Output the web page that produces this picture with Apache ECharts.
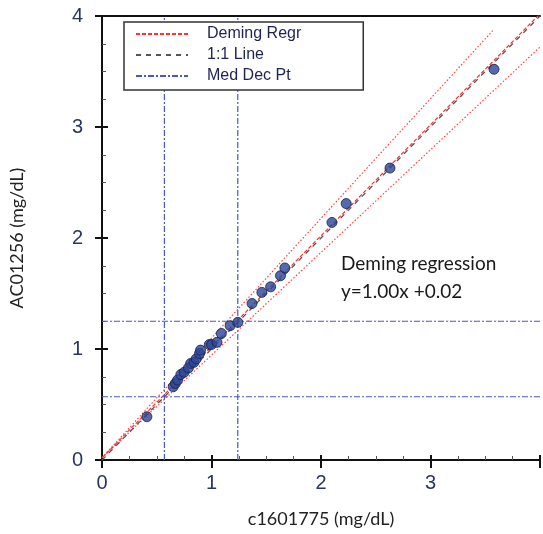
<!DOCTYPE html>
<html>
<head>
<meta charset="utf-8">
<script src="https://cdn.jsdelivr.net/npm/echarts@6/dist/echarts.min.js"></script>
<style>html,body{margin:0;padding:0;background:#fff;}#c{width:543px;height:534px;}</style>
</head>
<body>
<div id="c"></div>
<script>
// Data
var xTicks = [0, 1, 2, 3];
var yTicks = [0, 1, 2, 3, 4];
var points = [
  [0.41, 0.39], [0.65, 0.66], [0.67, 0.69], [0.69, 0.72], [0.72, 0.77], [0.75, 0.79],
  [0.79, 0.83], [0.81, 0.87], [0.84, 0.88], [0.86, 0.91], [0.89, 0.96], [0.90, 0.99],
  [0.98, 1.04], [1.00, 1.04], [1.05, 1.06], [1.09, 1.14], [1.17, 1.21], [1.24, 1.24],
  [1.37, 1.41], [1.46, 1.51], [1.54, 1.56], [1.63, 1.66], [1.67, 1.73],
  [2.10, 2.14], [2.23, 2.31], [2.63, 2.63], [3.58, 3.52]
];
var demingLine = [[0, 0.02], [4, 4.02]];
var identityLine = [[0, 0], [4, 4]];
var upperBand = [[0, 0.02], [3.57, 3.87]];
var lowerBand = [[0, 0.02], [4, 3.72]];
var medDecX = [0.57, 1.24];
var medDecY = [0.57, 1.25];
var axisRange = [0, 4];

var medColor = '#4a58c4';
var medDash = [6, 2, 2, 2];
var series = [];
medDecX.forEach(function (v) {
  series.push({ name: 'Med Dec Pt', type: 'line', symbol: 'none', silent: true, z: 1,
    itemStyle: { color: medColor },
    lineStyle: { color: medColor, width: 1.2, type: medDash },
    data: [[v, axisRange[0]], [v, axisRange[1]]] });
});
medDecY.forEach(function (v) {
  series.push({ name: 'Med Dec Pt', type: 'line', symbol: 'none', silent: true, z: 1,
    itemStyle: { color: medColor },
    lineStyle: { color: medColor, width: 1.2, type: medDash },
    data: [[axisRange[0], v], [axisRange[1], v]] });
});
series.push({ name: 'UpperCI', type: 'line', symbol: 'none', z: 2,
  lineStyle: { color: '#ff4040', width: 1.2, type: [1.5, 2] }, data: upperBand });
series.push({ name: 'LowerCI', type: 'line', symbol: 'none', z: 2,
  lineStyle: { color: '#ff4040', width: 1.2, type: [1.5, 2] }, data: lowerBand });
series.push({ name: '1:1 Line', type: 'line', symbol: 'none', z: 3,
  itemStyle: { color: '#555555' },
  lineStyle: { color: '#555555', width: 1.3, type: [5, 5] }, data: identityLine });
series.push({ name: 'Deming Regr', type: 'line', symbol: 'none', z: 4,
  itemStyle: { color: '#ff3030' },
  lineStyle: { color: '#ff3030', width: 1.2, type: [4, 2] }, data: demingLine });
series.push({ name: 'Data', type: 'scatter', symbol: 'circle', symbolSize: 10, z: 5,
  itemStyle: { color: '#2a4598', borderColor: '#14204a', borderWidth: 1 }, data: points });

var labelColor = '#2a3560';
var titleFont = 'Lato, "Open Sans", sans-serif';

function hideNonTick(list) {
  return function (v) { return list.indexOf(v) >= 0 ? String(v) : ''; };
}

var chart = echarts.init(document.getElementById('c'));
chart.setOption({
  animation: false,
  backgroundColor: '#ffffff',
  grid: { left: 102, right: 0, top: 16, bottom: 74, containLabel: false },
  legend: {
    data: ['Deming Regr', '1:1 Line', 'Med Dec Pt'],
    orient: 'vertical', left: 124, top: 22,
    itemWidth: 52, itemHeight: 14, itemGap: 5,
    padding: [4, 62, 6, 11],
    itemStyle: { opacity: 0 },
    backgroundColor: '#ffffff', borderColor: '#333333', borderWidth: 1.5,
    textStyle: { fontFamily: 'Arial, "Liberation Sans", sans-serif', fontSize: 16, color: '#1f2255', padding: [0, 0, 0, 14] },
    selectedMode: false
  },
  xAxis: [
    { type: 'value', min: axisRange[0], max: axisRange[1], interval: 1, position: 'bottom',
      name: 'c1601775 (mg/dL)', nameLocation: 'middle', nameGap: 50,
      nameTextStyle: { fontFamily: titleFont, fontSize: 18, color: '#222222' },
      axisLine: { show: true, onZero: false, lineStyle: { color: '#111111', width: 2 } },
      axisTick: { show: true, length: 8, lineStyle: { color: '#111111', width: 2 } },
      minorTick: { show: false },
      axisLabel: { show: true, margin: 13, fontFamily: 'Arial, "Liberation Sans", sans-serif', fontSize: 20, color: labelColor, formatter: hideNonTick(xTicks) },
      splitLine: { show: false } },
    { type: 'value', min: axisRange[0], max: axisRange[1], interval: 1, position: 'bottom',
      axisLine: { show: false, onZero: false },
      axisTick: { show: true, inside: true, length: 5, lineStyle: { color: '#111111', width: 2 } },
      minorTick: { show: true, splitNumber: 4, length: 4, lineStyle: { color: '#555555', width: 1 } },
      axisLabel: { show: false }, splitLine: { show: false } },
    { type: 'value', min: axisRange[0], max: axisRange[1], position: 'top',
      axisLine: { show: true, onZero: false, lineStyle: { color: '#111111', width: 2 } },
      axisTick: { show: false }, axisLabel: { show: false }, splitLine: { show: false } }
  ],
  yAxis: [
    { type: 'value', min: axisRange[0], max: axisRange[1], interval: 1, position: 'left',
      name: 'AC01256 (mg/dL)', nameLocation: 'middle', nameGap: 76, nameRotate: 90,
      nameTextStyle: { fontFamily: titleFont, fontSize: 18, color: '#222222' },
      axisLine: { show: true, onZero: false, lineStyle: { color: '#111111', width: 2 } },
      axisTick: { show: true, length: 7, lineStyle: { color: '#111111', width: 2 } },
      minorTick: { show: false },
      axisLabel: { show: true, margin: 19, fontFamily: 'Arial, "Liberation Sans", sans-serif', fontSize: 20, color: labelColor, formatter: hideNonTick(yTicks) },
      splitLine: { show: false } },
    { type: 'value', min: axisRange[0], max: axisRange[1], interval: 1, position: 'left',
      axisLine: { show: false, onZero: false },
      axisTick: { show: true, inside: true, length: 6, lineStyle: { color: '#111111', width: 2 } },
      minorTick: { show: true, splitNumber: 4, length: 4, lineStyle: { color: '#555555', width: 1 } },
      axisLabel: { show: false }, splitLine: { show: false } }
  ],
  series: series,
  graphic: [
    { type: 'text', left: 341, top: 254, z: 10,
      style: { text: 'Deming regression', fontFamily: titleFont, fontSize: 19, fill: '#1a1a1a' } },
    { type: 'text', left: 341, top: 282, z: 10,
      style: { text: 'y=1.00x +0.02', fontFamily: titleFont, fontSize: 19, fill: '#1a1a1a' } }
  ]
});
</script>
</body>
</html>
